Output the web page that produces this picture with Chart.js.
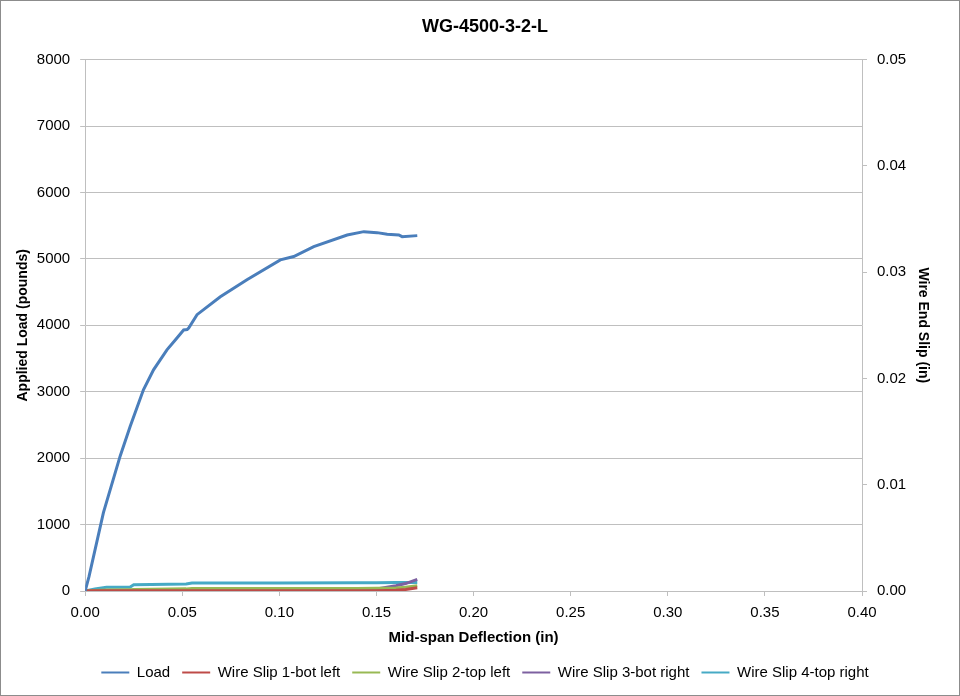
<!DOCTYPE html>
<html>
<head>
<meta charset="utf-8">
<script src="https://cdn.jsdelivr.net/npm/chart.js@4"></script>
<style>
  body { margin: 0; background: #fff; }
  #wrap { width: 960px; height: 696px; box-sizing: border-box; border: 1px solid #8c8c8c; }
</style>
</head>
<body>
<div id="wrap"><canvas id="chart" width="958" height="694"></canvas></div>
<script>
// load curve (deflection in, load lb)
const loadDefl = [0, 0.002, 0.0094, 0.018, 0.0232, 0.030, 0.0352, 0.0421, 0.0464, 0.0507, 0.0525, 0.0533, 0.0576, 0.0696, 0.0833, 0.1005, 0.1074, 0.1177, 0.1349, 0.1435, 0.1503, 0.1555, 0.1615, 0.1632, 0.171];
const loadValues = [0, 220, 1180, 2030, 2480, 3030, 3330, 3630, 3780, 3930, 3935, 3960, 4160, 4430, 4685, 4985, 5035, 5185, 5360, 5410, 5395, 5370, 5360, 5335, 5350];

// wire slip (in)
const slipDefl = [0, 0.005, 0.011, 0.023, 0.025, 0.052, 0.055, 0.10, 0.14, 0.15, 0.16, 0.165, 0.171];
const slip1 = [0, 0.00002, 0.00002, 0.00002, 0.00002, 0.00002, 0.00002, 0.00002, 0.00002, 0.00003, 0.00008, 0.00015, 0.0003];
const slip2 = [0, 0.00005, 0.0001, 0.00012, 0.00013, 0.0002, 0.00023, 0.00024, 0.00024, 0.00025, 0.00028, 0.00035, 0.0005];
const slip3 = [0, 0.00004, 0.00005, 0.00005, 0.00005, 0.00006, 0.00006, 0.00006, 0.0001, 0.0002, 0.0005, 0.0007, 0.0011];
const slip4 = [0, 0.0002, 0.00035, 0.00035, 0.00059, 0.00066, 0.00076, 0.00076, 0.00077, 0.00078, 0.0008, 0.0008, 0.0008];

const xTicks = [0, 0.05, 0.10, 0.15, 0.20, 0.25, 0.30, 0.35, 0.40];

function pts(xs, ys) {
    return xs.map((x, i) => ({ x, y: ys[i] }));
}

function line(label, xs, ys, color, axis) {
    return {
        label,
        data: pts(xs, ys),
        borderColor: color,
        backgroundColor: color,
        borderWidth: 3,
        pointRadius: 0,
        showLine: true,
        tension: 0,
        yAxisID: axis
    };
}

const family = 'Liberation Sans, Arial, sans-serif';
const font = { family, size: 15 };
const boldFont = { family, size: 14, weight: 'bold' };
const gridColor = '#bfbfbf';

new Chart(document.getElementById('chart'), {
    type: 'scatter',
    data: {
        datasets: [
            line('Load', loadDefl, loadValues, '#4a7ebb', 'y'),
            line('Wire Slip 1-bot left', slipDefl, slip1, '#be4b48', 'y2'),
            line('Wire Slip 2-top left', slipDefl, slip2, '#98b954', 'y2'),
            line('Wire Slip 3-bot right', slipDefl, slip3, '#7d60a0', 'y2'),
            line('Wire Slip 4-top right', slipDefl, slip4, '#46aac5', 'y2')
        ]
    },
    options: {
        responsive: false,
        animation: false,
        // small right padding so title and legend sit a bit right of centre, as in the original
        layout: { padding: { left: 10, right: 0, top: 4, bottom: 5 } },
        plugins: {
            title: {
                display: true,
                text: 'WG-4500-3-2-L',
                color: '#000',
                font: { family, size: 18, weight: 'bold' },
                padding: { top: 11, bottom: 22 }
            },
            legend: {
                position: 'bottom',
                labels: {
                    color: '#000',
                    font: { family, size: 15 },
                    usePointStyle: true,
                    pointStyle: 'line',
                    pointStyleWidth: 28,
                    padding: 12,
                    generateLabels: (chart) =>
                        Chart.defaults.plugins.legend.labels.generateLabels(chart)
                            .map(l => ({ ...l, lineWidth: 2 }))
                }
            },
            tooltip: { enabled: false }
        },
        scales: {
            x: {
                type: 'linear',
                min: 0,
                max: 0.4,
                afterBuildTicks: (axis) => { axis.ticks = xTicks.map(v => ({ value: v })); },
                ticks: {
                    color: '#000',
                    font,
                    padding: 8,
                    callback: (v) => v.toFixed(2)
                },
                grid: { drawOnChartArea: false, tickLength: 5, color: gridColor },
                border: { display: true, color: gridColor },
                title: {
                    display: true,
                    text: 'Mid-span Deflection (in)',
                    color: '#000',
                    font: { family, size: 15, weight: 'bold' },
                    padding: { top: -1, bottom: 6 }
                }
            },
            y: {
                position: 'left',
                min: 0,
                max: 8000,
                ticks: {
                    stepSize: 1000,
                    color: '#000',
                    font,
                    padding: 10,
                    callback: (v) => String(v)
                },
                grid: { color: gridColor, tickLength: 5, tickColor: gridColor },
                border: { display: true, color: gridColor },
                title: {
                    display: true,
                    text: 'Applied Load (pounds)',
                    color: '#000',
                    font: boldFont,
                    padding: { top: 4, bottom: -5 }
                }
            },
            y2: {
                position: 'right',
                min: 0,
                max: 0.05,
                ticks: {
                    stepSize: 0.01,
                    color: '#000',
                    font,
                    padding: 10,
                    callback: (v) => v.toFixed(2)
                },
                grid: { drawOnChartArea: false, tickLength: 5, color: gridColor },
                border: { display: true, color: gridColor },
                title: {
                    display: true,
                    text: 'Wire End Slip (in)',
                    color: '#000',
                    font: boldFont,
                    padding: { top: 28, bottom: -2 }
                }
            }
        }
    }
});
</script>
</body>
</html>
